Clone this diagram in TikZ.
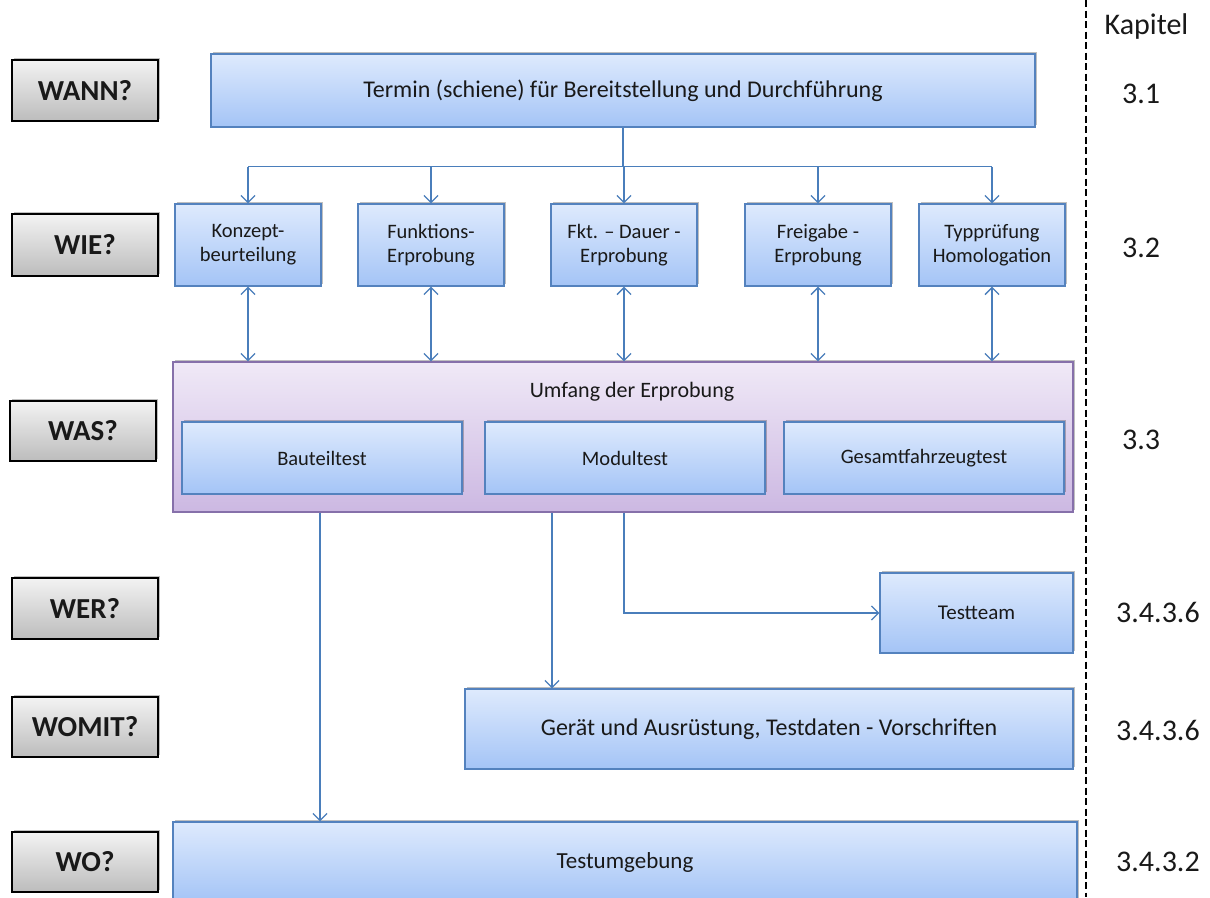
\documentclass[tikz,border=0pt]{standalone}
\usepackage{fontspec}
\setmainfont{Carlito}
\usetikzlibrary{arrows.meta,shadows}
\definecolor{bluetop}{RGB}{222,234,253}
\definecolor{bluebot}{RGB}{164,196,246}
\definecolor{blueline}{RGB}{84,130,190}
\definecolor{purtop}{RGB}{240,233,247}
\definecolor{purbot}{RGB}{204,184,226}
\definecolor{purline}{RGB}{134,112,170}
\definecolor{graytop}{RGB}{243,243,243}
\definecolor{graybot}{RGB}{188,188,188}
\definecolor{arrcol}{RGB}{74,126,187}
\definecolor{txt}{RGB}{25,25,25}
\tikzset{
  shad/.style={drop shadow={shadow xshift=2pt,shadow yshift=2.5pt,opacity=0.25,fill=black}},
  bluebox/.style={rectangle,draw=blueline,line width=1.3pt,top color=bluetop,bottom color=bluebot,shad,inner sep=0pt,align=center,text=txt,font=\fontsize{20.5}{24}\selectfont},
  purbox/.style={rectangle,draw=purline,line width=1.3pt,top color=purtop,bottom color=purbot,shad,inner sep=0pt},
  qbox/.style={rectangle,draw=black,line width=1.6pt,top color=graytop,bottom color=graybot,shad,inner sep=0pt,minimum width=146pt,font=\fontsize{29}{33}\selectfont\bfseries,text=txt},
  kap/.style={font=\fontsize{30}{34}\selectfont,text=txt,inner sep=0pt},
  conn/.style={draw=arrcol,line width=1.3pt},
  arr/.style={conn,-{Straight Barb[length=7pt,width=14pt,line width=1.3pt]}},
  darr/.style={conn,{Straight Barb[length=7pt,width=14pt,line width=1.3pt]}-{Straight Barb[length=7pt,width=14pt,line width=1.3pt]}},
}
\begin{document}
\begin{tikzpicture}[x=1pt,y=-1pt]
\useasboundingbox (0,0) rectangle (1210,897);
\fill[white] (0,0) rectangle (1210,897);

% question boxes
\node[qbox,minimum height=61pt] (wann) at (85,90.5) {WANN?};
\node[qbox,minimum height=62pt] (wie) at (85,245) {WIE?};
\node[qbox,minimum height=60pt] (was) at (83,431) {WAS?};
\node[qbox,minimum height=61pt] (wer) at (85,608.5) {WER?};
\node[qbox,minimum height=60pt] (womit) at (85,727) {WOMIT?};
\node[qbox,minimum height=60pt] (wo) at (85,862) {WO?};

% top box
\node[bluebox,minimum width=824pt,minimum height=73pt,font=\fontsize{24}{28}\selectfont] (termin) at (623,90.5) {Termin (schiene) für Bereitstellung und Durchführung};

% WIE boxes
\node[bluebox,minimum width=146pt,minimum height=82pt] (k1) at (248,245) {Konzept-\\beurteilung};
\node[bluebox,minimum width=146pt,minimum height=82pt] (k2) at (431,245) {Funktions-\\Erprobung};
\node[bluebox,minimum width=146pt,minimum height=82pt] (k3) at (624,245) {Fkt. – Dauer -\\Erprobung};
\node[bluebox,minimum width=146pt,minimum height=82pt] (k4) at (818,245) {Freigabe -\\Erprobung};
\node[bluebox,minimum width=146pt,minimum height=82pt] (k5) at (992,245) {Typprüfung\\Homologation};

% Umfang
\node[purbox,minimum width=900pt,minimum height=150pt] (umfang) at (623,437) {};
\node[inner sep=0pt,text=txt,font=\fontsize{22}{26}\selectfont] (umfangt) at (632,392) {Umfang der Erprobung};
\node[bluebox,minimum width=280pt,minimum height=72pt] (bt) at (322,458) {Bauteiltest};
\node[bluebox,minimum width=280pt,minimum height=72pt] (mt) at (625,458) {Modultest};
\node[bluebox,minimum width=280pt,minimum height=72pt] (gt) at (924,458) {Gesamtfahrzeugtest};

% lower boxes
\node[bluebox,minimum width=193pt,minimum height=80pt,font=\fontsize{21}{25}\selectfont] (team) at (976.5,613) {Testteam};
\node[bluebox,minimum width=608pt,minimum height=80pt,font=\fontsize{24}{28}\selectfont] (geraet) at (769,729) {Gerät und Ausrüstung, Testdaten - Vorschriften};
\node[bluebox,minimum width=904pt,minimum height=80pt,font=\fontsize{23}{27}\selectfont] (umg) at (625,862) {Testumgebung};

% Kapitel column
\draw[black,line width=1.3pt,dash pattern=on 7pt off 3.5pt] (1086,0) -- (1086,897);
\node[kap] (kapitel) at (1146.5,27) {Kapitel};
\node[kap,anchor=west] (c1) at (1122,94) {3.1};
\node[kap,anchor=west] (c2) at (1122,248) {3.2};
\node[kap,anchor=west] (c3) at (1122,440) {3.3};
\node[kap,anchor=west] (c4) at (1116,612) {3.4.3.6};
\node[kap,anchor=west] (c5) at (1116,730) {3.4.3.6};
\node[kap,anchor=west] (c6) at (1116,862) {3.4.3.2};

% connectors
\path (termin.south) ++(0,39) coordinate (bus);
\draw[conn] (termin.south) -- (bus);
\draw[conn] (bus -| k1.north) -- (bus -| k5.north);
\foreach \k in {k1,k2,k3,k4,k5}{
  \draw[arr] (bus -| \k.north) -- (\k.north);
  \draw[darr] (\k.south) -- (\k.south |- umfang.north);
}
\path (umfang.south) ++(-303,0) coordinate (o1);
\path (umfang.south) ++(-71,0) coordinate (o2);
\path (umfang.south) ++(1,0) coordinate (o3);
\draw[arr] (o1) -- (o1 |- umg.north);
\draw[arr] (o2) -- (o2 |- geraet.north);
\draw[arr] (o3) |- (team.west);
\end{tikzpicture}
\end{document}
